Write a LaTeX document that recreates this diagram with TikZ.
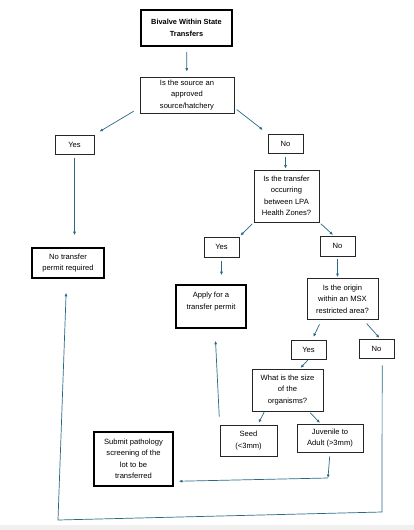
\documentclass[tikz,border=0pt]{standalone}
\usepackage{fontspec}
\setmainfont{Liberation Sans}
\usetikzlibrary{arrows.meta}
\definecolor{flowblue}{RGB}{40,105,135}
\begin{document}
\begin{tikzpicture}[x=1pt, y=-1pt, font=\fontsize{7.6}{11.5}\selectfont, >={Latex[length=3.5pt,width=3pt]},
      boxnode/.style={draw=black!85, line width=0.7pt, align=center, inner sep=1pt},
      endnode/.style={boxnode, draw=black, line width=1.6pt},
      flowarr/.style={->, line width=0.7pt, flowblue}]
    \useasboundingbox (0,0) rectangle (414,530);
    \fill[black!6] (0,525) rectangle (414,530);
    \node[endnode, minimum width=91pt, minimum height=36pt, font=\fontsize{7.4}{11.5}\selectfont\bfseries] (title) at (186.5,28) {Bivalve Within State\\Transfers};
    \node[boxnode, minimum width=94pt, minimum height=36pt] (src) at (187,95) {Is the source an\\approved\\source/hatchery};
    \node[boxnode, minimum width=39pt, minimum height=19pt] (yesA) at (74.5,144.5) {Yes};
    \node[boxnode, minimum width=35pt, minimum height=19pt] (noA) at (285.5,143.5) {No};
    \node[endnode, minimum width=72pt, minimum height=30pt] (nopermit) at (68,263) {No transfer\\permit required};
    \node[boxnode, minimum width=65pt, minimum height=52pt] (zones) at (286.5,196) {Is the transfer\\occurring\\between LPA\\Health Zones?};
    \node[boxnode, minimum width=35pt, minimum height=20pt] (yesB) at (221.5,247) {Yes};
    \node[boxnode, minimum width=35pt, minimum height=20pt] (noB) at (337.5,246) {No};
    \node[endnode, minimum width=70pt, minimum height=43pt] (apply) at (211,306.5) {Apply for a\\transfer permit\\\mbox{}};
    \node[boxnode, minimum width=71pt, minimum height=41pt] (msx) at (342.5,299) {Is the origin\\within an MSX\\restricted area?};
    \node[boxnode, minimum width=35pt, minimum height=19pt] (yesC) at (308.5,349.5) {Yes};
    \node[boxnode, minimum width=35pt, minimum height=19pt] (noC) at (376.5,348.5) {No};
    \node[boxnode, minimum width=71pt, minimum height=42pt] (size) at (287.5,390) {What is the size\\of the\\organisms?};
    \node[boxnode, minimum width=57pt, minimum height=31pt] (seed) at (248.5,440.5) {Seed\\(<3mm)};
    \node[boxnode, minimum width=66pt, minimum height=28pt] (adult) at (330,438) {Juvenile to\\Adult (>3mm)};
    \node[endnode, minimum width=79pt, minimum height=54pt] (submit) at (133.5,459) {Submit pathology\\screening of the\\lot to be\\transferred};
    \coordinate (turn) at (328,478);
    \coordinate (loopR) at (382,512);
    \coordinate (loopL) at (58,520);
    % yes / no branches
    \draw[flowarr, shorten <=5pt, shorten >=5pt] (title) -- (src);
    \draw[flowarr, shorten <=7pt, shorten >=6pt] (src.195) -- (yesA.north east);
    \draw[flowarr, shorten <=3pt, shorten >=6pt] (src.-15) -- (noA.north west);
    \draw[flowarr, shorten <=4pt, shorten >=12pt] (yesA.south) -- (yesA.south |- nopermit.north);
    \draw[flowarr, shorten <=4pt, shorten >=1pt] (noA.south) -- (noA.south |- zones.north);
    \draw[flowarr, shorten <=2pt, shorten >=1.5pt] (zones.south west) -- (yesB.north east);
    \draw[flowarr, shorten <=2pt, shorten >=1pt] (zones.south east) -- (noB.110);
    \draw[flowarr, shorten <=4pt, shorten >=9pt] (yesB.south) -- (yesB.south |- apply.north);
    \draw[flowarr, shorten <=3pt, shorten >=1pt] (noB.south) -- (noB.south |- msx.north);
    \draw[flowarr, shorten <=5pt, shorten >=3pt] (msx.225) -- (yesC.70);
    \draw[flowarr, shorten <=5pt, shorten >=1pt] (msx.-45) -- (noC.70);
    \draw[flowarr, shorten <=1pt, shorten >=1pt] (yesC.south) -- (size.60);
    \draw[flowarr, shorten <=1pt, shorten >=2pt] (size.223) -- (seed.60);
    \draw[flowarr, shorten <=2pt, shorten >=1pt] (size.-45) -- (adult.123);
    % back to the permits
    \draw[flowarr, shorten <=4pt] (adult.south) -- (turn);
    \draw[flowarr, shorten >=5pt] (turn) -- (submit.-29);
    \draw[flowarr, shorten <=8pt, shorten >=12pt] (seed.north west) -- (apply.-80);
    \draw[flowarr, shorten <=7pt, shorten >=14pt] (noC.-60) -- (loopR) -- (loopL) -- (nopermit.-95);
  \end{tikzpicture}
\end{document}
